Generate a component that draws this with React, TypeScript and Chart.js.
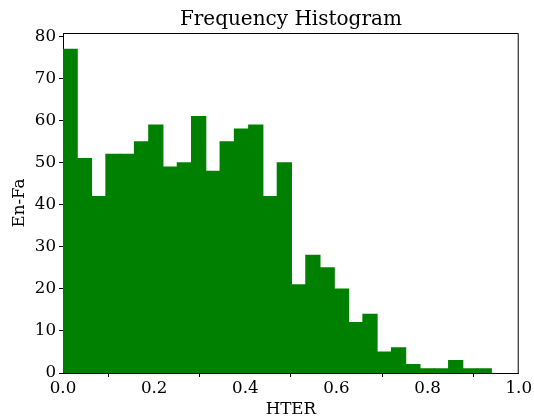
import React, { useEffect, useRef } from "react";
import { Chart, registerables } from "chart.js";

Chart.register(...registerables);

const binStart = 0;
const binWidth = 0.94 / 30;
const counts = [77, 51, 42, 52, 52, 55, 59, 49, 50, 61, 48, 55, 58, 59, 42, 50, 21, 28, 25, 20, 12, 14, 5, 6, 2, 1, 1, 3, 1, 1];
const xTicks = [0, 0.2, 0.4, 0.6, 0.8, 1.0];
const yTicks = [0, 10, 20, 30, 40, 50, 60, 70, 80];

const FONT = "'DejaVu Serif', serif";

const framePlugin = {
  id: "frame",
  afterLayout(chart: any) {
    const tb = chart.titleBlock;
    if (tb) {
      tb.left = chart.chartArea.left;
      tb.right = chart.chartArea.right;
      tb.width = chart.chartArea.right - chart.chartArea.left;
    }
  },
  afterDatasetsDraw(chart: any) {
    const { ctx, chartArea } = chart;
    ctx.save();
    ctx.strokeStyle = "#000";
    ctx.lineWidth = 1;
    ctx.beginPath();
    ctx.moveTo(chartArea.left, chartArea.top + 0.5);
    ctx.lineTo(chartArea.right - 0.5, chartArea.top + 0.5);
    ctx.lineTo(chartArea.right - 0.5, chartArea.bottom);
    ctx.stroke();
    ctx.restore();
  },
};

export default function App() {
  const ref = useRef<HTMLCanvasElement | null>(null);
  useEffect(() => {
    document.body.style.margin = "0";
    const data = counts.map((c, i) => ({ x: binStart + binWidth * (i + 0.5), y: c }));
    const chart = new Chart(ref.current as HTMLCanvasElement, {
      type: "bar",
      data: {
        datasets: [
          {
            data: data as any,
            backgroundColor: "#008000",
            borderWidth: 0,
            barPercentage: 1,
            categoryPercentage: 1,
            grouped: false,
            inflateAmount: 0.5,
          } as any,
        ],
      },
      options: {
        animation: false,
        responsive: false,
        layout: { padding: { left: 0, right: 15, top: 0, bottom: 0 } },
        plugins: {
          legend: { display: false },
          tooltip: { enabled: false },
          title: {
            display: true,
            text: "Frequency Histogram",
            color: "#000",
            font: { family: FONT, size: 20, weight: "normal" },
            padding: { top: 8, bottom: 1 },
          },
        },
        scales: {
          x: {
            type: "linear",
            min: 0,
            max: 1,
            offset: false,
            afterFit(scale: any) {
              scale.height = 47;
            },
            afterBuildTicks(scale: any) {
              scale.ticks = xTicks.map((v) => ({ value: v }));
            },
            ticks: {
              color: "#000",
              font: { family: FONT, size: 16.7 },
              padding: 2,
              maxRotation: 0,
              autoSkip: false,
              callback: (v: any) => Number(v).toFixed(1),
            },
            grid: { drawOnChartArea: false, tickLength: 4, color: "#000", tickColor: "#000" },
            border: { display: true, color: "#000" },
            title: {
              display: true,
              text: "HTER",
              color: "#000",
              font: { family: FONT, size: 16.7 },
              padding: { top: 0, bottom: 0 },
            },
          },
          y: {
            type: "linear",
            min: 0,
            max: 80.85,
            afterFit(scale: any) {
              scale.width = 63;
            },
            afterBuildTicks(scale: any) {
              scale.ticks = yTicks.map((v) => ({ value: v }));
            },
            ticks: {
              color: "#000",
              font: { family: FONT, size: 16.7 },
              padding: 3,
              autoSkip: false,
            },
            grid: { drawOnChartArea: false, tickLength: 4, color: "#000", tickColor: "#000" },
            border: { display: true, color: "#000" },
            title: {
              display: true,
              text: "En-Fa",
              color: "#000",
              font: { family: FONT, size: 16.7 },
              padding: { top: 10, bottom: 0 },
            },
          },
        },
      },
      plugins: [framePlugin],
    });
    return () => chart.destroy();
  }, []);
  return <canvas ref={ref} width={534} height={420} style={{ display: "block" }} />;
}
